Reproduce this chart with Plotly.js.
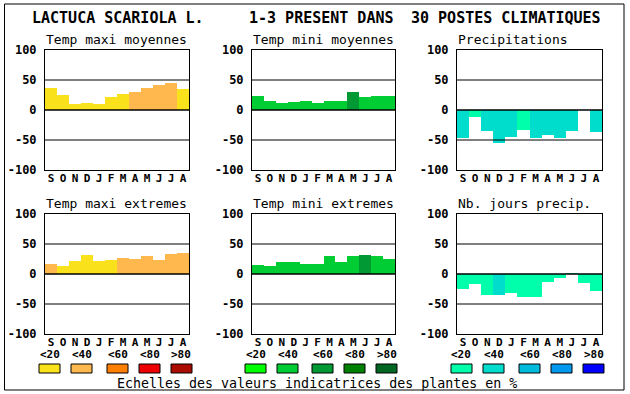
<!DOCTYPE html>
<html><head><meta charset="utf-8">
<script src="https://cdn.plot.ly/plotly-3.0.1.min.js"></script>
<style>html,body{margin:0;padding:0;background:#fff;}#chart{width:630px;height:394px;}</style>
</head><body><div id="chart"></div>
<script>
const months = ['S','O','N','D','J','F','M','A','M','J','J','A'];
const tickVals = [-100,-50,0,50,100];
const levelLabels = ['<20','<40','<60','<80','>80'];
const warmColors = ['#F9E21B','#FFB84E','#FF8000','#EE0000','#AA0C00'];
const greenColors = ['#00FF00','#00CC33','#009933','#008000','#006622'];
const blueColors = ['#00FFAA','#00DDCC','#00BBDD','#0099EE','#0000FF'];

const panelTitles = ['Temp maxi moyennes','Temp mini moyennes','Precipitations',
                     'Temp maxi extremes','Temp mini extremes','Nb. jours precip.'];

const tmaxMoy    = [37,25,10,12,10,22,27,30,37,42,45,35];
const tmaxMoyLvl = [0,0,0,0,0,0,0,1,1,1,1,0];
const tminMoy    = [24,15,12,13.5,15,12,15,15,30,22,24,24];
const tminMoyLvl = [1,1,1,1,1,1,1,1,2,1,1,1];
const precip     = [-46,-12,-35,-55,-45,-34,-46,-42,-46,-35,0,-37];
const precipLvl  = [1,0,1,1,1,0,1,1,1,1,1,1];
const tmaxExt    = [17,13,22,32,22,23,27,25,30,23,33,35];
const tmaxExtLvl = [1,0,0,0,0,0,1,1,1,1,1,1];
const tminExt    = [15,13,20,20,17,17,30,20,30,32,30,25];
const tminExtLvl = [1,1,1,1,1,1,1,1,1,2,1,1];
const nbJours    = [-25,-17,-35,-35,-32,-38,-38,-13,-7,2,-15,-28];
const nbJoursLvl = [0,0,0,1,0,0,0,0,0,0,0,0];

const W = 630, H = 394;
const px = v => v / W;
const py = v => 1 - v / H;

const xDomains = [[45,189],[252,395],[457,602]];
const yDomains = [[50,170],[214,334]];

const series = [
  [tmaxMoy, tmaxMoyLvl, warmColors],
  [tminMoy, tminMoyLvl, greenColors],
  [precip, precipLvl, blueColors],
  [tmaxExt, tmaxExtLvl, warmColors],
  [tminExt, tminExtLvl, greenColors],
  [nbJours, nbJoursLvl, blueColors]
];

const mono = 'DejaVu Sans Mono, Liberation Mono, monospace';
const data = [];
const layout = {
  width: W, height: H,
  margin: {l:0, r:0, t:0, b:0},
  paper_bgcolor: '#fff', plot_bgcolor: '#fff',
  showlegend: false, bargap: 0,
  shapes: [], annotations: []
};

const xIdx = months.map((m, i) => i);

series.forEach((s, k) => {
  const n = k + 1;
  const xa = n === 1 ? 'x' : 'x' + n;
  const ya = n === 1 ? 'y' : 'y' + n;
  const col = k % 3, row = Math.floor(k / 3);
  data.push({
    type: 'bar', x: xIdx, y: s[0], xaxis: xa, yaxis: ya, width: 1,
    marker: {color: s[1].map(l => s[2][l]), line: {width: 0}},
    hoverinfo: 'skip'
  });
  const xd = xDomains[col], yd = yDomains[row];
  layout['xaxis' + (n === 1 ? '' : n)] = {
    domain: [px(xd[0]), px(xd[1])], anchor: ya,
    range: [-0.5, 11.5], tickmode: 'array', tickvals: xIdx, ticktext: months,
    showgrid: false, zeroline: false, showline: true, mirror: true,
    linecolor: '#000', linewidth: 1, ticks: '', ticklabelstandoff: -2,
    tickfont: {family: mono, size: 11, color: '#000', weight: 'bold'},
    fixedrange: true
  };
  layout['yaxis' + (n === 1 ? '' : n)] = {
    domain: [py(yd[1]), py(yd[0])], anchor: xa,
    range: [-100, 100], tickmode: 'array', tickvals: tickVals,
    ticktext: tickVals.map(String),
    showgrid: false, zeroline: false, showline: true, mirror: true,
    linecolor: '#000', linewidth: 1, ticks: '', ticklabelstandoff: 5,
    tickfont: {family: mono, size: 12, color: '#000', weight: 'bold'},
    fixedrange: true
  };
  [-50, 0, 50].forEach(v => {
    layout.shapes.push({
      type: 'line', xref: xa + ' domain', yref: ya, x0: 0, x1: 1, y0: v, y1: v,
      line: {color: '#000', width: v === 0 ? 1.5 : 1}, layer: 'above'
    });
  });
  layout.annotations.push({
    text: panelTitles[k], xref: 'paper', yref: 'paper',
    x: px(xd[0] - 1), y: py(row === 0 ? 39 : 203), xanchor: 'left', yanchor: 'middle',
    showarrow: false, font: {family: mono, size: 13, color: '#000'}
  });
});

// Main title
[['LACTUCA SCARIOLA L.', 30], ['1-3 PRESENT DANS', 247], ['30 POSTES CLIMATIQUES', 409]].forEach(t => {
  layout.annotations.push({
    text: t[0], xref: 'paper', yref: 'paper', x: px(t[1]), y: py(18),
    xanchor: 'left', yanchor: 'middle', showarrow: false,
    font: {family: mono, size: 15, color: '#000', weight: 'bold'}
  });
});

// Legend swatches
const swatchX = [[39,71,107,139,171],[245,277,312,344,376],[451,483,519,551,583]];
const palettes = [warmColors, greenColors, blueColors];
palettes.forEach((pal, g) => {
  pal.forEach((c, i) => {
    const x0 = swatchX[g][i];
    layout.shapes.push({
      type: 'rect', xref: 'paper', yref: 'paper',
      x0: px(x0), x1: px(x0 + 21), y0: py(373), y1: py(364),
      fillcolor: c, line: {color: '#000', width: 1}
    });
    layout.annotations.push({
      text: levelLabels[i], xref: 'paper', yref: 'paper',
      x: px(x0 + 10.5), y: py(354), xanchor: 'center', yanchor: 'middle',
      showarrow: false, font: {family: mono, size: 11, color: '#000', weight: 'bold'}
    });
  });
});

layout.annotations.push({
  text: 'Echelles des valeurs indicatrices des plantes en %', xref: 'paper', yref: 'paper',
  x: px(115), y: py(383), xanchor: 'left', yanchor: 'middle', showarrow: false,
  font: {family: mono, size: 13.3, color: '#000'}
});

// Outer frame
layout.shapes.push({
  type: 'rect', xref: 'paper', yref: 'paper',
  x0: px(4.5), x1: px(624), y0: py(390), y1: py(4),
  line: {color: '#000', width: 1}, fillcolor: 'rgba(0,0,0,0)'
});

Plotly.newPlot('chart', data, layout, {staticPlot: true, displayModeBar: false});
</script></body></html>
